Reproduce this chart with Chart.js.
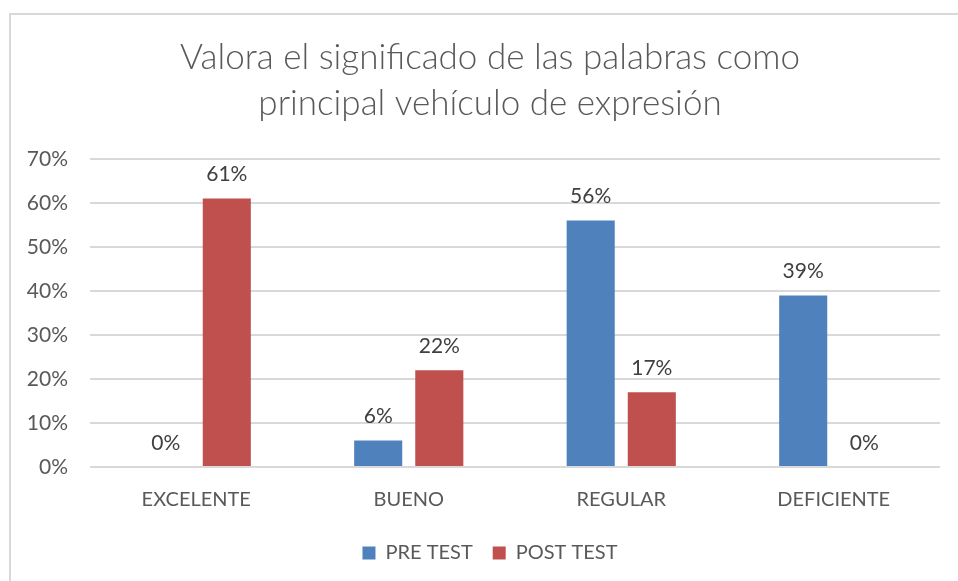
<!DOCTYPE html>
<html>
<head>
<meta charset="utf-8">
<script src="https://cdn.jsdelivr.net/npm/chart.js@4"></script>
<style>
  html, body { margin: 0; padding: 0; background: #fff; }
  #frame {
    position: absolute; left: 9px; top: 13px; width: 1000px; height: 600px;
    border-left: 2px solid #d9d9d9; border-top: 2px solid #d9d9d9;
  }
  #wrap { position: absolute; left: 0; top: 0; width: 958px; height: 581px; }
</style>
</head>
<body>
<div id="frame"></div>
<div id="wrap"><canvas id="chart"></canvas></div>
<script>
// Chart data
const categories = ['EXCELENTE', 'BUENO', 'REGULAR', 'DEFICIENTE'];
const preTest = [0, 6, 56, 39];
const postTest = [61, 22, 17, 0];
const yTickLabels = ['0%', '10%', '20%', '30%', '40%', '50%', '60%', '70%'];

const FONT = 'Lato, "Open Sans", sans-serif';

// draws the value labels above each bar
const valueLabels = {
    id: 'valueLabels',
    afterDatasetsDraw(chart) {
        const ctx = chart.ctx;
        ctx.save();
        ctx.font = '21px ' + FONT;
        ctx.fillStyle = '#404040';
        ctx.textAlign = 'center';
        ctx.textBaseline = 'middle';
        chart.data.datasets.forEach(function(ds, i) {
            const meta = chart.getDatasetMeta(i);
            meta.data.forEach(function(bar, j) {
                ctx.fillText(ds.data[j] + '%', bar.x, bar.y - 24);
            });
        });
        ctx.restore();
    }
};

// title and legend are centred on the framed box, a bit right of the canvas centre
const centerOnFrame = {
    id: 'centerOnFrame',
    afterLayout(chart) {
        if (chart.titleBlock) chart.titleBlock.left += 40;
        if (chart.legend) chart.legend.left += 40;
    }
};

document.addEventListener('DOMContentLoaded', function() {
    new Chart(document.getElementById('chart'), {
        type: 'bar',
        data: {
            labels: categories,
            datasets: [{
                label: 'PRE TEST',
                data: preTest,
                backgroundColor: '#4f81bd',
                categoryPercentage: 0.575,
                barPercentage: 0.787
            }, {
                label: 'POST TEST',
                data: postTest,
                backgroundColor: '#c0504d',
                categoryPercentage: 0.575,
                barPercentage: 0.787
            }]
        },
        options: {
            responsive: true,
            maintainAspectRatio: false,
            animation: false,
            layout: {
                padding: { left: 0, right: 18, top: 35, bottom: 8 }
            },
            plugins: {
                title: {
                    display: true,
                    text: ['Valora el significado de las palabras como', 'principal vehículo de expresión'],
                    color: '#595959',
                    font: { family: FONT, size: 35, weight: 300, lineHeight: 1.3 },
                    padding: { top: 0, bottom: 33 }
                },
                legend: {
                    position: 'bottom',
                    labels: {
                        color: '#595959',
                        font: { family: FONT, size: 20 },
                        boxWidth: 13,
                        boxHeight: 13,
                        padding: 20
                    }
                },
                tooltip: { enabled: false }
            },
            scales: {
                x: {
                    afterFit: function(scale) { scale.height = 56; },
                    grid: { display: false },
                    border: { display: false },
                    ticks: {
                        color: '#595959',
                        font: { family: FONT, size: 20 },
                        padding: 13
                    }
                },
                y: {
                    min: 0,
                    max: 70,
                    afterFit: function(scale) { scale.width = 90; },
                    grid: { color: '#d9d9d9', lineWidth: 2, drawTicks: false },
                    border: { display: false },
                    ticks: {
                        stepSize: 10,
                        color: '#595959',
                        font: { family: FONT, size: 21 },
                        padding: 22,
                        callback: function(v, i) { return yTickLabels[i]; }
                    }
                }
            }
        },
        plugins: [valueLabels, centerOnFrame]
    });
});
</script>
</body>
</html>
